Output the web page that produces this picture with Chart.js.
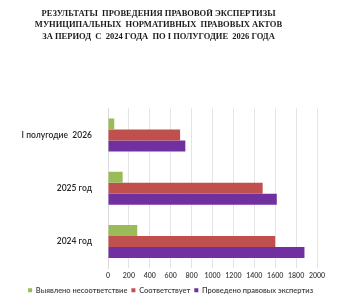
<!DOCTYPE html>
<html>
<head>
<meta charset="utf-8">
<script src="https://cdn.jsdelivr.net/npm/chart.js@4"></script>
<style>
  html, body { margin: 0; padding: 0; background: #fff; }
  #wrap { width: 360px; height: 308px; position: relative; }
</style>
</head>
<body>
<div id="wrap"><canvas id="expertChart"></canvas></div>
<script>
const periods = ['I полугодие  2026', '2025 год', '2024 год'];
const mismatchFound = [60, 140, 280];
const compliant = [690, 1480, 1600];
const examined = [740, 1615, 1880];
const titleLines = [
    'РЕЗУЛЬТАТЫ  ПРОВЕДЕНИЯ ПРАВОВОЙ ЭКСПЕРТИЗЫ',
    'МУНИЦИПАЛЬНЫХ  НОРМАТИВНЫХ  ПРАВОВЫХ АКТОВ',
    'ЗА ПЕРИОД  С  2024 ГОДА  ПО I ПОЛУГОДИЕ  2026 ГОДА'
];

function initChart() {
    const ctx = document.getElementById('expertChart').getContext('2d');
    new Chart(ctx, {
        type: 'bar',
        data: {
            labels: periods,
            datasets: [
                { label: 'Выявлено несоответствие', data: mismatchFound, backgroundColor: '#9BBB59' },
                { label: 'Соответствует', data: compliant, backgroundColor: '#C0504D' },
                { label: 'Проведено правовых экспертиз', data: examined, backgroundColor: '#7030A0' }
            ]
        },
        options: {
            indexAxis: 'y',
            responsive: true,
            maintainAspectRatio: false,
            animation: false,
            layout: { padding: { left: 0, right: 43, top: 0, bottom: 4 } },
            datasets: { bar: { categoryPercentage: 0.62, barPercentage: 1.0 } },
            scales: {
                x: {
                    min: 0, max: 2000,
                    ticks: {
                        stepSize: 200, autoSkip: false, minRotation: 0, maxRotation: 0,
                        color: '#404040', font: { family: 'Lato', size: 7, weight: '600' }, padding: 3,
                        callback: v => String(v)
                    },
                    grid: { color: '#e4e4e4', drawTicks: false },
                    border: { display: false }
                },
                y: {
                    ticks: { color: '#262626', font: { family: 'Lato', size: 8.5, weight: '600' }, padding: 8 },
                    grid: { display: false },
                    border: { display: true, color: '#d9d9d9' },
                    afterFit: function (scale) { scale.width = 108; }
                }
            },
            plugins: {
                title: {
                    display: true,
                    text: titleLines,
                    color: '#1a1a1a',
                    font: { family: 'Liberation Serif', size: 8.5, weight: 'bold', lineHeight: 1.35 },
                    padding: { top: 8, bottom: 66 }
                },
                legend: {
                    position: 'bottom',
                    align: 'end',
                    labels: { boxWidth: 4, boxHeight: 4, padding: 4, color: '#404040', font: { family: 'Lato', size: 7.5, weight: '600' } }
                },
                tooltip: { enabled: false }
            }
        }
    });
}

if (typeof Chart !== 'undefined') {
    initChart();
} else {
    window.addEventListener('load', initChart);
}
</script>
</body>
</html>
